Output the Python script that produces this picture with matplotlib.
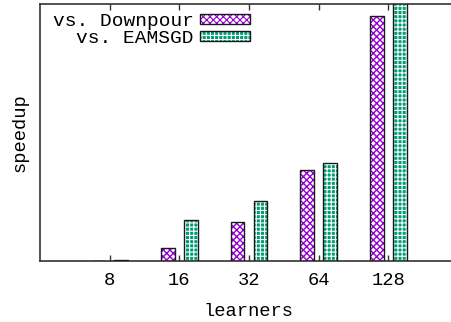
import matplotlib
matplotlib.use("Agg")
import matplotlib.pyplot as plt
import numpy as np
from matplotlib.patches import Patch

learners = ["8", "16", "32", "64", "128"]
vs_downpour = [0.0, 1.0, 3.0, 7.1, 19.1]
vs_eamsgd = [0.05, 3.2, 4.7, 7.6, 20.5]

plt.rcParams["font.family"] = ["Liberation Mono", "DejaVu Sans Mono"]

violet = "#9400d3"
green = "#009e73"
border = "#1a1a1a"
fs = 13.5
hatch_dp = "xxxxx"
hatch_ea = "++++"

fig = plt.figure(figsize=(4.52, 3.22), dpi=100)
ax = fig.add_axes([40 / 452, 61 / 322, 418 / 452, 257 / 322])

x = np.arange(len(learners))
w = 0.2
off = 0.165

# hatched fills, then dark outlines on top
plt.rcParams["hatch.linewidth"] = 1.0
ax.bar(x - off, vs_downpour, w, facecolor="white", edgecolor=violet,
       hatch=hatch_dp, linewidth=0, zorder=2)
h1f = Patch(facecolor="white", edgecolor=violet, hatch=hatch_dp, linewidth=0)
plt.rcParams["hatch.linewidth"] = 0.8
ax.bar(x + off, vs_eamsgd, w, facecolor=green, edgecolor="white",
       hatch=hatch_ea, linewidth=0, zorder=2)
h2f = Patch(facecolor=green, edgecolor="white", hatch=hatch_ea, linewidth=0)
ax.bar(x - off, vs_downpour, w, facecolor="none", edgecolor=border,
       linewidth=1.0, zorder=3)
ax.bar(x + off, vs_eamsgd, w, facecolor="none", edgecolor=border,
       linewidth=1.0, zorder=3)

ax.set_xlim(-1, 5)
ax.set_ylim(0, 20)
ax.set_xticks(x)
ax.set_xticklabels(learners, fontsize=fs)
ax.set_yticks([])
ax.tick_params(axis="x", direction="in", length=4, width=1, top=True,
               pad=8, color="#333333")
for s in ax.spines.values():
    s.set_color("#333333")
    s.set_linewidth(1.2)

ax.set_xlabel("learners", fontsize=fs, labelpad=10)
ax.set_ylabel("speedup", fontsize=fs, labelpad=8)

h1 = (h1f, Patch(facecolor="none", edgecolor=border, linewidth=1.0))
h2 = (h2f, Patch(facecolor="none", edgecolor=border, linewidth=1.0))
leg = ax.legend([h1, h2], ["vs. Downpour", "vs. EAMSGD"], loc="upper left",
                bbox_to_anchor=(0.012, 0.995), frameon=False, markerfirst=False,
                fontsize=14, handlelength=2.6, handleheight=0.45,
                handletextpad=0.3, labelspacing=0.0, borderaxespad=0.2,
                borderpad=0.2)
for t in leg.get_texts():
    t.set_ha("right")
leg._legend_box.align = "right"

fig.savefig("out.png", dpi=100)
